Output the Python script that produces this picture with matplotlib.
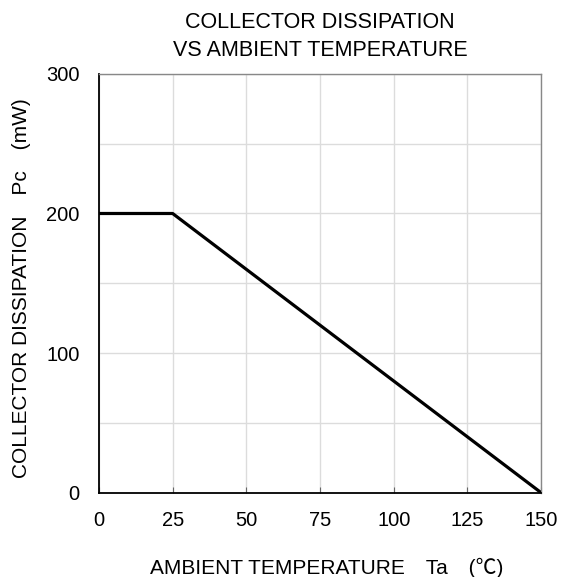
import matplotlib
matplotlib.use("Agg")
import matplotlib.pyplot as plt

# derating curve: ambient temperature (C) vs collector dissipation (mW)
temp_c = [0, 25, 150]
pc_mw = [200, 200, 0]

x_ticks = [0, 25, 50, 75, 100, 125, 150]
y_ticks = [0, 100, 200, 300]
y_grid = [50, 150, 250]

plt.rcParams["font.family"] = ["Liberation Sans", "Noto Sans CJK JP", "DejaVu Sans"]

fig = plt.figure(figsize=(5.62, 5.77), dpi=100)
ax = fig.add_axes([0.176, 0.146, 0.787, 0.726])

ax.plot(temp_c, pc_mw, color="black", lw=2.3, solid_capstyle="butt", zorder=3)

ax.set_xlim(0, 150)
ax.set_ylim(0, 300)
ax.set_xticks(x_ticks)
ax.set_yticks(y_ticks)
ax.set_yticks(y_grid, minor=True)
ax.grid(True, which="both", color="#dcdcdc", lw=1.0)
ax.set_axisbelow(True)

ax.tick_params(axis="x", direction="in", length=4, color="#666666", pad=13, labelsize=14.5)
ax.tick_params(axis="y", direction="in", length=0, pad=14, labelsize=14.5)
ax.tick_params(axis="y", which="minor", length=0)

for s in ["left", "bottom"]:
    ax.spines[s].set_color("black")
    ax.spines[s].set_linewidth(1.3)
for s in ["top", "right"]:
    ax.spines[s].set_color("#888888")
    ax.spines[s].set_linewidth(1.0)

ax.set_xlabel("AMBIENT TEMPERATURE　Ta　(℃)", fontsize=15)
ax.xaxis.set_label_coords(0.515, -0.155)
ax.xaxis.label.set_va("top")
ax.set_ylabel("COLLECTOR DISSIPATION　Pc　(mW)", fontsize=15, labelpad=11)
ax.yaxis.label.set_y(0.489)
ax.set_title("COLLECTOR DISSIPATION\nVS AMBIENT TEMPERATURE", fontsize=15.5,
             linespacing=1.44, pad=12.5)

fig.savefig("out.png", dpi=100)
